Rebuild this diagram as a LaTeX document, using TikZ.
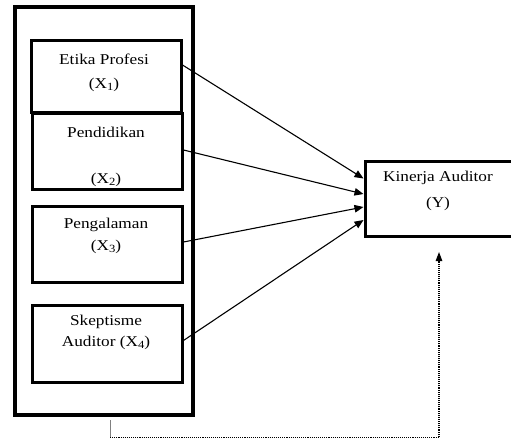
\documentclass[tikz,border=0pt]{standalone}
\usepackage{fontspec}
\setmainfont{Liberation Serif}[FakeStretch=1.15]
\usetikzlibrary{arrows.meta,calc}
\newcommand{\lowsub}[1]{\raisebox{-1.5pt}{\fontsize{11}{12}\selectfont #1}}
\begin{document}
\begin{tikzpicture}[x=1pt,y=-1pt,
  varbox/.style={draw,line width=3pt,minimum width=#1,inner sep=0pt},
  lbl/.style={font=\fontsize{15}{17}\selectfont,align=center,inner sep=0pt},
  link/.style={line width=1.1pt,-{Triangle[length=9pt,width=7.5pt]}},
  dotlink/.style={line width=1.1pt,densely dotted,-{Triangle[length=9pt,width=6.5pt]}}]
\useasboundingbox (0,0) rectangle (511,439);
% outer frame
\node[draw,line width=3.2pt,minimum width=178pt,minimum height=408pt,inner sep=0pt] (outer) at (104,211) {};
% inner boxes
\node[varbox=150pt,minimum height=72pt] (b1) at (106,76) {};
\node[varbox=150pt,minimum height=76pt] (b2) at (107,151) {};
\node[varbox=150pt,minimum height=76pt] (b3) at (107,244) {};
\node[varbox=150pt,minimum height=77pt] (b4) at (107,343.5) {};
\node[draw,line width=3pt,minimum width=148pt,minimum height=75pt,inner sep=0pt] (y) at (439,198.5) {};
% labels
\node[lbl] (t1a) at (104,59) {Etika Profesi};
\node[lbl] (t1b) at (104,85) {(X\lowsub{1})};
\node[lbl] (t2a) at (106,132) {Pendidikan};
\node[lbl] (t2b) at (106,180) {(X\lowsub{2})};
\node[lbl] (t3a) at (106,225) {Pengalaman};
\node[lbl] (t3b) at (106,247) {(X\lowsub{3})};
\node[lbl] (t4a) at (106,322) {Skeptisme};
\node[lbl] (t4b) at (106,343) {Auditor (X\lowsub{4})};
\node[lbl] (tya) at (438,178) {Kinerja Auditor};
\node[lbl] (tyb) at (438,204) {(Y)};
% arrows
\draw[link] ([yshift=11pt]b1.east) -- ([yshift=20pt]y.west);
\draw[link] ([yshift=1pt]b2.east) -- ([yshift=4.5pt]y.west);
\draw[link] ([yshift=2pt]b3.east) -- ([yshift=-8.5pt]y.west);
\draw[link] ([yshift=3pt]b4.east) -- ([yshift=-21.5pt]y.west);
% moderating dotted link
\coordinate (s) at (110,420);
\coordinate (c) at (110,437.5);
\coordinate (t) at (439,252);
\draw[line width=0.8pt,gray] (s) -- (c);
\draw[dotlink] (c) -| (t);
\end{tikzpicture}
\end{document}
